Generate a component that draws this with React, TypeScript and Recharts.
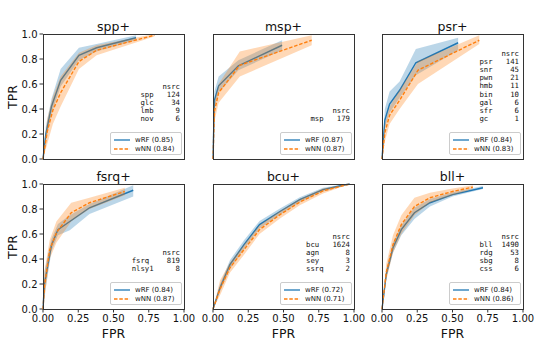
import { ComposedChart, Area, Line, XAxis, YAxis } from 'recharts';

// each point: [fpr, tpr, band low, band high]
type Pt = [number, number, number, number];

const sppRF: Pt[] = [[0, 0, 0, 0], [0.02, 0.2, 0.14, 0.26], [0.06, 0.42, 0.36, 0.48], [0.125, 0.63, 0.58, 0.72], [0.255, 0.83, 0.79, 0.89], [0.38, 0.89, 0.86, 0.92], [0.66, 0.97, 0.95, 0.99]];
const sppNN: Pt[] = [[0, 0, 0, 0], [0.03, 0.22, 0.12, 0.32], [0.07, 0.39, 0.28, 0.5], [0.125, 0.53, 0.42, 0.66], [0.255, 0.78, 0.72, 0.85], [0.38, 0.87, 0.83, 0.91], [0.79, 0.99, 0.98, 1.0]];

const mspRF: Pt[] = [[0, 0, 0, 0], [0.01, 0.47, 0.4, 0.54], [0.04, 0.585, 0.53, 0.66], [0.18, 0.745, 0.71, 0.79], [0.49, 0.91, 0.87, 0.95]];
const mspNN: Pt[] = [[0, 0, 0, 0], [0.01, 0.38, 0.3, 0.46], [0.04, 0.53, 0.45, 0.6], [0.19, 0.75, 0.66, 0.86], [0.7, 0.95, 0.91, 0.99]];

const psrRF: Pt[] = [[0, 0, 0, 0], [0.02, 0.31, 0.25, 0.4], [0.054, 0.44, 0.37, 0.54], [0.125, 0.55, 0.49, 0.62], [0.24, 0.77, 0.67, 0.88], [0.54, 0.93, 0.87, 0.97]];
const psrNN: Pt[] = [[0, 0, 0, 0], [0.02, 0.21, 0.14, 0.28], [0.054, 0.35, 0.28, 0.42], [0.125, 0.47, 0.4, 0.55], [0.255, 0.71, 0.6, 0.78], [0.69, 0.95, 0.92, 0.99]];

const fsrqRF: Pt[] = [[0, 0, 0, 0], [0.01, 0.2, 0.1, 0.3], [0.06, 0.51, 0.46, 0.56], [0.106, 0.635, 0.59, 0.68], [0.19, 0.7, 0.63, 0.75], [0.33, 0.81, 0.76, 0.84], [0.64, 0.95, 0.9, 0.99]];
const fsrqNN: Pt[] = [[0, 0, 0, 0], [0.01, 0.18, 0.08, 0.3], [0.047, 0.47, 0.4, 0.55], [0.095, 0.61, 0.53, 0.7], [0.2, 0.77, 0.7, 0.85], [0.33, 0.85, 0.8, 0.89], [0.58, 0.94, 0.91, 0.97]];

const bcuRF: Pt[] = [[0, 0, 0, 0], [0.05, 0.17, 0.14, 0.2], [0.12, 0.355, 0.32, 0.39], [0.22, 0.515, 0.48, 0.55], [0.33, 0.675, 0.645, 0.705], [0.475, 0.78, 0.755, 0.805], [0.615, 0.875, 0.855, 0.895], [0.78, 0.955, 0.94, 0.97], [0.92, 0.99, 0.983, 0.997], [0.97, 1, 1, 1]];
const bcuNN: Pt[] = [[0, 0, 0, 0], [0.05, 0.16, 0.11, 0.23], [0.12, 0.33, 0.29, 0.37], [0.22, 0.475, 0.435, 0.515], [0.33, 0.635, 0.6, 0.67], [0.475, 0.755, 0.725, 0.785], [0.615, 0.855, 0.83, 0.88], [0.78, 0.945, 0.925, 0.965], [0.97, 1, 1, 1]];

const bllRF: Pt[] = [[0, 0, 0, 0], [0.03, 0.275, 0.24, 0.31], [0.078, 0.49, 0.45, 0.53], [0.137, 0.635, 0.59, 0.67], [0.23, 0.77, 0.72, 0.81], [0.34, 0.85, 0.82, 0.88], [0.5, 0.915, 0.9, 0.935], [0.716, 0.97, 0.96, 0.985]];
const bllNN: Pt[] = [[0, 0, 0, 0], [0.03, 0.29, 0.23, 0.36], [0.078, 0.515, 0.45, 0.59], [0.137, 0.675, 0.6, 0.75], [0.23, 0.82, 0.75, 0.89], [0.34, 0.89, 0.85, 0.93], [0.5, 0.94, 0.91, 0.965], [0.645, 0.975, 0.96, 0.99]];

const sppSrc: [string, number][] = [['spp', 124], ['glc', 34], ['lmb', 9], ['nov', 6]];
const mspSrc: [string, number][] = [['msp', 179]];
const psrSrc: [string, number][] = [['psr', 141], ['snr', 45], ['pwn', 21], ['hmb', 11], ['bin', 10], ['gal', 6], ['sfr', 6], ['gc', 1]];
const fsrqSrc: [string, number][] = [['fsrq', 819], ['nlsy1', 8]];
const bcuSrc: [string, number][] = [['bcu', 1624], ['agn', 8], ['sey', 3], ['ssrq', 2]];
const bllSrc: [string, number][] = [['bll', 1490], ['rdg', 53], ['sbg', 8], ['css', 6]];

const titles = ['spp+', 'msp+', 'psr+', 'fsrq+', 'bcu+', 'bll+'];
const aucRF = [0.85, 0.87, 0.84, 0.84, 0.72, 0.84];
const aucNN = [0.84, 0.87, 0.83, 0.87, 0.71, 0.86];

const xTicks = [0, 0.25, 0.5, 0.75, 1];
const yTicks = [0, 0.2, 0.4, 0.6, 0.8, 1];

const panels = [
  { rf: sppRF, nn: sppNN, src: sppSrc },
  { rf: mspRF, nn: mspNN, src: mspSrc },
  { rf: psrRF, nn: psrNN, src: psrSrc },
  { rf: fsrqRF, nn: fsrqNN, src: fsrqSrc },
  { rf: bcuRF, nn: bcuNN, src: bcuSrc },
  { rf: bllRF, nn: bllNN, src: bllSrc },
];

const BLUE = '#1f77b4';
const ORANGE = '#ff7f0e';
const PW = 141;
const PH = 125;
const MX = 14; // room so edge tick labels are not clipped
const MY = 8;
const colLeft = [43, 213, 382];
const rowTop = [34, 184];

const toRows = (pts: Pt[]) => pts.map(([fpr, tpr, lo, hi]) => ({ fpr, tpr, band: [lo, hi] }));

function Series({ pts, color, dashed, yw, xh, axes }: any) {
  const tickStyle = { fontSize: 10, fill: '#111', fontFamily: 'DejaVu Sans' };
  return (
    <div style={{ position: 'absolute', left: -MX, top: -MY }}>
      <ComposedChart width={PW + yw + 2 * MX} height={PH + xh + 2 * MY} data={toRows(pts)} margin={{ top: MY, right: MX, bottom: MY, left: MX }}>
        <XAxis
          type="number" dataKey="fpr" domain={[0, 1]} ticks={xTicks} interval={0}
          hide={xh === 0} height={xh} axisLine={false}
          tick={axes ? tickStyle : false} tickLine={axes ? { stroke: '#333' } : false}
          tickSize={3.5} tickMargin={2} tickFormatter={(v: number) => v.toFixed(2)}
        />
        <YAxis
          type="number" domain={[0, 1]} ticks={yTicks} interval={0}
          hide={yw === 0} width={yw} axisLine={false}
          tick={axes ? tickStyle : false} tickLine={axes ? { stroke: '#333' } : false}
          tickSize={3.5} tickMargin={2} tickFormatter={(v: number) => v.toFixed(1)}
        />
        <Area type="linear" dataKey="band" stroke="none" fill={color} fillOpacity={0.3} isAnimationActive={false} />
        <Line
          type="linear" dataKey="tpr" stroke={color} strokeWidth={1.4}
          strokeDasharray={dashed ? '3.5 1.8' : undefined} dot={false} isAnimationActive={false}
        />
      </ComposedChart>
    </div>
  );
}

function Panel({ i }: { i: number }) {
  const p = panels[i];
  const r = Math.floor(i / 3);
  const c = i % 3;
  const yw = c === 0 ? 43 : 0;
  const xh = r === 1 ? 30 : 0;
  const w = Math.max(...p.src.map((s) => s[0].length));
  const table = ['nsrc', ...p.src.map(([n, v]) => n.padEnd(w) + String(v).padStart(6))].join('\n');
  return (
    <div style={{ position: 'absolute', left: colLeft[c] - yw, top: rowTop[r], width: PW + yw, height: PH + xh }}>
      <Series pts={p.rf} color={BLUE} yw={yw} xh={xh} axes />
      <Series pts={p.nn} color={ORANGE} dashed yw={yw} xh={xh} axes={false} />
      <div style={{ position: 'absolute', left: yw - 0.5, top: -0.5, width: PW + 1, height: PH + 1, border: '1px solid #333', boxSizing: 'border-box', pointerEvents: 'none' }} />
      <div style={{ position: 'absolute', left: yw, top: -15, width: PW, textAlign: 'center', fontSize: 12.5, lineHeight: '15px', color: '#111' }}>
        {titles[i]}
      </div>
      <div style={{ position: 'absolute', right: 4, top: PH - 36 - 8.1 * table.split('\n').length, whiteSpace: 'pre', textAlign: 'right', fontFamily: 'DejaVu Sans Mono', fontSize: 7.3, lineHeight: '8.1px', color: '#111' }}>
        {table}
      </div>
      <div style={{ position: 'absolute', left: yw + PW - 74, top: PH - 27, width: 72, height: 23, border: '1px solid #ccc', borderRadius: 2, background: 'rgba(255,255,255,0.85)', boxSizing: 'border-box', fontSize: 7, color: '#111' }}>
        {[['wRF', aucRF[i], BLUE, false], ['wNN', aucNN[i], ORANGE, true]].map(([name, auc, col, dash]: any, k) => (
          <div key={k} style={{ position: 'absolute', left: 3, top: 2 + k * 9.3, height: 9, display: 'flex', alignItems: 'center' }}>
            <svg width={17} height={4}>
              <line x1={0} y1={2} x2={16} y2={2} stroke={col} strokeWidth={1.3} strokeDasharray={dash ? '3.5 1.8' : undefined} />
            </svg>
            <span style={{ marginLeft: 4, whiteSpace: 'pre' }}>{`${name} (${auc.toFixed(2)})`}</span>
          </div>
        ))}
      </div>
      {c === 0 && (
        <div style={{ position: 'absolute', left: 12.3, top: PH / 2, transform: 'translate(-50%, -50%) rotate(-90deg)', fontSize: 12.5, color: '#111' }}>
          TPR
        </div>
      )}
      {r === 1 && (
        <div style={{ position: 'absolute', left: yw, top: PH + 17, width: PW, textAlign: 'center', fontSize: 12.5, color: '#111' }}>
          FPR
        </div>
      )}
    </div>
  );
}

export default function App() {
  return (
    <div style={{ position: 'absolute', left: 0, top: 0, width: 540, height: 344, background: '#fff', fontFamily: 'DejaVu Sans' }}>
      {panels.map((_, i) => (
        <Panel key={i} i={i} />
      ))}
    </div>
  );
}
